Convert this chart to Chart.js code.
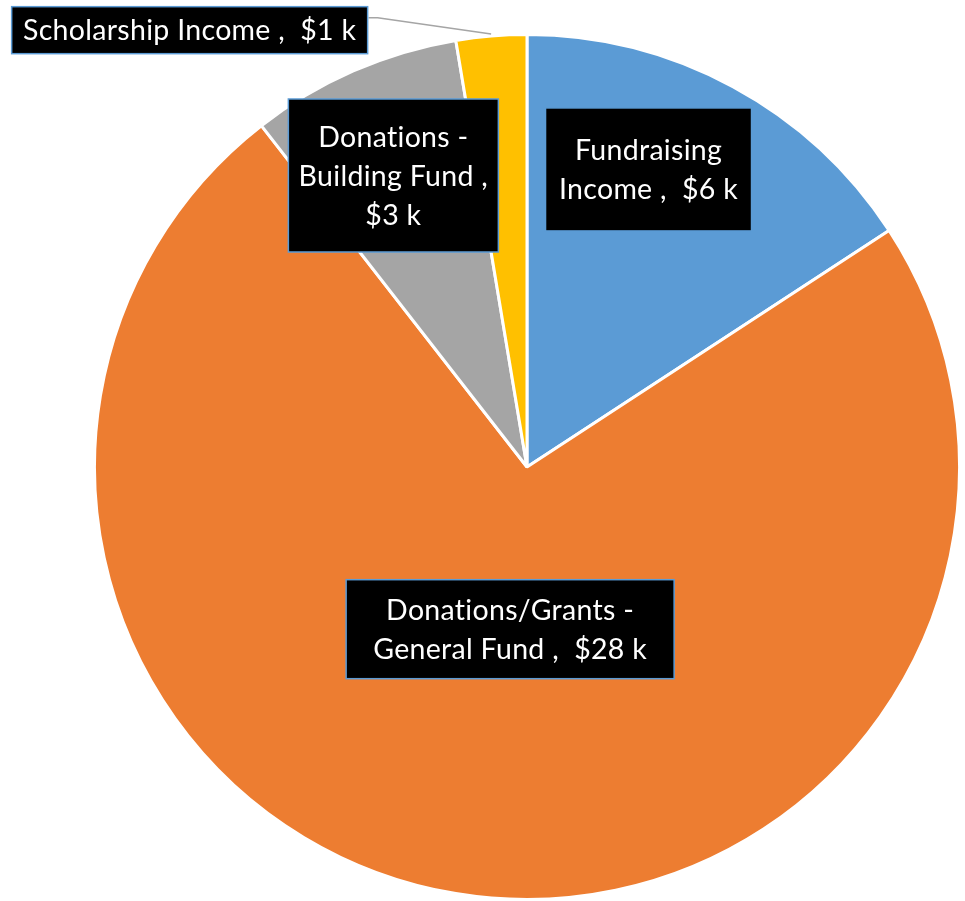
<!DOCTYPE html>
<html>
<head>
<meta charset="utf-8">
<script src="https://cdn.jsdelivr.net/npm/chart.js@4.4.1/dist/chart.umd.min.js"></script>
<style>
  html, body { margin: 0; padding: 0; background: #ffffff; }
  #wrap { width: 965px; height: 901px; }
  canvas { font-variant-ligatures: none; }
</style>
</head>
<body>
<div id="wrap"><canvas id="c" width="965" height="901"></canvas></div>
<script>
// ---- data ----
const categories = ['Fundraising Income', 'Donations/Grants - General Fund', 'Donations - Building Fund', 'Scholarship Income'];
const values = [6, 28, 3, 1];           // $ thousands
const valueLabels = ['$6 k', '$28 k', '$3 k', '$1 k'];
const labelLines = [
  ['Fundraising', 'Income ,  $6 k'],
  ['Donations/Grants -', 'General Fund ,  $28 k'],
  ['Donations -', 'Building Fund ,', '$3 k'],
  ['Scholarship Income ,  $1 k']
];
const colors = ['#5b9bd5', '#ed7d31', '#a5a5a5', '#ffc000'];

// ---- label placement (relative to pie centre, in radius units) ----
const labelStyle = [
  { fx: 0.281, fy: -0.688, w: 206, h: 123 },
  { fx: -0.039, fy: 0.375, w: 328, h: 99 },
  { fx: -0.309, fy: -0.674, w: 210, h: 153 },
  { fx: -0.780, fy: -1.010, w: 356, h: 47, leader: true }
];

const labelPlugin = {
  id: 'boxLabels',
  afterDatasetsDraw(chart) {
    const ctx = chart.ctx;
    const meta = chart.getDatasetMeta(0);
    meta.data.forEach((arc, i) => {
      const st = labelStyle[i];
      const r = arc.outerRadius;
      const cx = arc.x + st.fx * r;
      const cy = arc.y + st.fy * r;
      const x0 = cx - st.w / 2, y0 = cy - st.h / 2;
      ctx.save();
      if (st.leader) {
        const mid = (arc.startAngle + arc.endAngle) / 2;
        const px = arc.x + Math.cos(mid) * (r + 2);
        const py = arc.y + Math.sin(mid) * (r + 2);
        ctx.strokeStyle = '#a5a5a5';
        ctx.lineWidth = 1.5;
        ctx.beginPath();
        ctx.moveTo(x0 + st.w + 1, y0 + 11);
        ctx.lineTo(x0 + st.w + 10, y0 + 11);
        ctx.lineTo(px, py);
        ctx.stroke();
      }
      ctx.fillStyle = '#000000';
      ctx.fillRect(x0, y0, st.w, st.h);
      ctx.strokeStyle = '#5b9bd5';
      ctx.lineWidth = 1.5;
      ctx.strokeRect(x0, y0, st.w, st.h);
      ctx.fillStyle = '#ffffff';
      ctx.font = '28.5px Lato, "Open Sans", sans-serif';
      if ('letterSpacing' in ctx) ctx.letterSpacing = '0.3px';
      ctx.textAlign = 'center';
      ctx.textBaseline = 'middle';
      const lines = labelLines[i];
      const lh = 39;
      const startY = cy - (lines.length - 1) * lh / 2 + 1;
      lines.forEach((ln, k) => ctx.fillText(ln, cx, startY + k * lh));
      ctx.restore();
    });
  }
};

new Chart(document.getElementById('c'), {
  type: 'pie',
  data: {
    labels: categories,
    datasets: [{
      data: values,
      backgroundColor: colors,
      borderColor: '#ffffff',
      borderWidth: 3
    }]
  },
  options: {
    responsive: false,
    animation: false,
    layout: { padding: { left: 93, right: 4, top: 33, bottom: 0 } },
    plugins: {
      legend: { display: false },
      tooltip: { enabled: false }
    }
  },
  plugins: [labelPlugin]
});
</script>
</body>
</html>
